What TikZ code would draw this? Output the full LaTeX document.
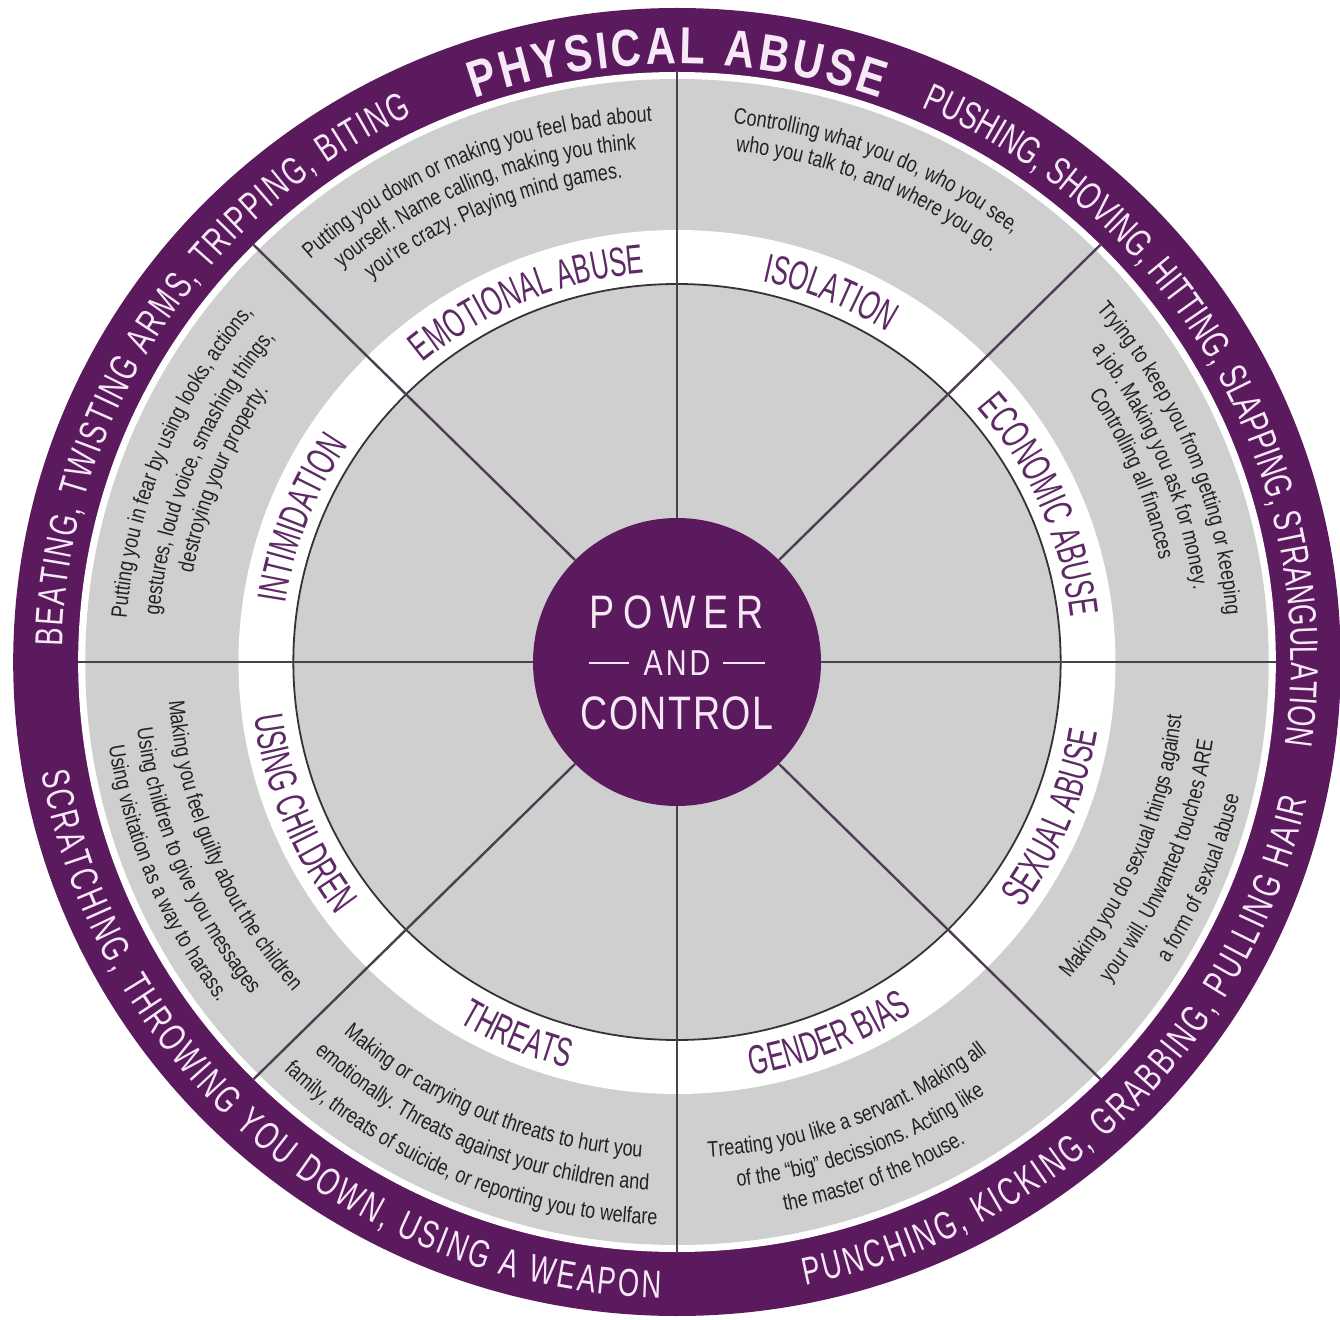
\documentclass[tikz,border=0pt]{standalone}
\usepackage{fontspec}
\setmainfont{Liberation Sans}
\newfontfamily\descfont[FakeStretch=0.8]{Liberation Sans}
\newfontfamily\labfont[FakeStretch=0.62]{Liberation Sans}
\newfontfamily\ringfont[FakeStretch=0.7]{Liberation Sans}
\newfontfamily\headfont[FakeStretch=0.8]{Liberation Sans}
\newfontfamily\hubfont[FakeStretch=0.8]{Liberation Sans}
\usetikzlibrary{decorations.text}

\definecolor{wheelpurple}{HTML}{5B1A5E}
\definecolor{wheelgray}{HTML}{CFCFCF}
\definecolor{labelpurple}{HTML}{5E2A66}
\definecolor{desctext}{HTML}{222222}
\definecolor{ringtext}{HTML}{F6E8F6}
\definecolor{spokecol}{HTML}{4E3E52}
\definecolor{rimline}{HTML}{333333}

\newcommand\descstyle{\descfont\fontsize{22.5}{26}\selectfont\color{desctext}}
\newcommand\labstyle{\labfont\fontsize{41}{44}\selectfont\color{labelpurple}}
\newcommand\ringstyle{\ringfont\fontsize{39}{42}\selectfont\color{ringtext}}
\newcommand\headstyle{\headfont\bfseries\fontsize{52}{56}\selectfont\color{ringtext}}

% text set along an arc about the wheel centre:
% format, radius, start angle, end angle, alignment, text
\newcommand\arcline[6]{%
  \path[decorate,decoration={text along path,text align={#5},text={|#1|#6}}]
    (#3:#2) arc[start angle=#3,end angle=#4,radius=#2];}

% upper half: letters upright away from the centre (clockwise)
\newcommand\topdesc[3]{%
  \pgfmathsetmacro\dlFrom{#1+70}\pgfmathsetmacro\dlTo{#1-70}%
  \arcline{\descstyle}{#2}{\dlFrom}{\dlTo}{center}{#3}}
% lower half: letters upright towards the centre (counter-clockwise)
\newcommand\botdesc[3]{%
  \pgfmathsetmacro\dlFrom{#1-70}\pgfmathsetmacro\dlTo{#1+70}%
  \arcline{\descstyle}{#2}{\dlFrom}{\dlTo}{center}{#3}}
\newcommand\toplabel[2]{%
  \pgfmathsetmacro\dlFrom{#1+60}\pgfmathsetmacro\dlTo{#1-60}%
  \arcline{\labstyle}{390}{\dlFrom}{\dlTo}{center}{#2}}
\newcommand\botlabel[2]{%
  \pgfmathsetmacro\dlFrom{#1-60}\pgfmathsetmacro\dlTo{#1+60}%
  \arcline{\labstyle}{420}{\dlFrom}{\dlTo}{center}{#2}}

\tikzset{
  hub/.style={circle,fill=wheelpurple,minimum size=288pt,inner sep=0pt},
  hubtext/.style={text=ringtext,inner sep=0pt},
  spoke/.style={draw=spokecol,line width=2.4pt},
}

\begin{document}
\begin{tikzpicture}[x=1.015pt,y=1pt]
\useasboundingbox (-667,-658) rectangle (653.2,662);
\fill[white] (-667,-658) rectangle (653.2,662);

% rings of the wheel
\fill[wheelpurple] (0,0) circle[radius=654];
\fill[white] (0,0) circle[radius=590];
\fill[wheelgray] (0,0) circle[radius=583];
\fill[white] (0,0) circle[radius=432];
\filldraw[fill=wheelgray,draw=rimline,line width=1.8pt] (0,0) circle[radius=378];

% hub
\node[hub] (hub) at (0,0) {};

% spokes
\foreach \a in {0,45,...,315}{
  \coordinate (rim\a) at (\a:590);
  \draw[spoke] (hub.\a) -- (rim\a);
}

% hub text
\node[hubtext,font={\hubfont\fontsize{47}{50}\selectfont}] (power) at (0,50)
  {P\kern8pt O\kern8pt W\kern8pt E\kern8pt R};
\node[hubtext,font={\hubfont\fontsize{36}{40}\selectfont}] (and) at (0,-1)
  {\rule[11pt]{40pt}{2.6pt}\hspace{15pt}A\kern3pt N\kern3pt D\hspace{13pt}\rule[11pt]{42pt}{2.6pt}};
\node[hubtext,font={\hubfont\fontsize{47}{50}\selectfont}] (control) at (0,-51)
  {C\kern1.5pt O\kern1.5pt N\kern1.5pt T\kern1.5pt R\kern1.5pt O\kern1.5pt L};

% outer band
\arcline{\headstyle}{598}{109.5}{70.5}{fit to path}{PHYSICAL ABUSE}
\arcline{\ringstyle}{605}{66.5}{-7.5}{fit to path}{PUSHING, SHOVING, HITTING, SLAPPING, STRANGULATION}
\arcline{\ringstyle}{606}{178.5}{115.5}{fit to path}{BEATING, TWISTING ARMS, TRIPPING, BITING}
\arcline{\ringstyle}{636}{190}{268.5}{fit to path}{SCRATCHING, THROWING YOU DOWN, USING A WEAPON}
\arcline{\ringstyle}{636}{281.5}{347.5}{fit to path}{PUNCHING, KICKING, GRABBING, PULLING HAIR}

% labels in the white ring
\toplabel{112.5}{EMOTIONAL ABUSE}
\toplabel{67.5}{ISOLATION}
\toplabel{23.5}{ECONOMIC ABUSE}
\toplabel{159}{INTIMIDATION}
\botlabel{-22.5}{SEXUAL ABUSE}
\botlabel{-68}{GENDER BIAS}
\botlabel{-113}{THREATS}
\botlabel{-158}{USING CHILDREN}

% descriptions
\topdesc{112.5}{541}{Putting you down or making you feel bad about}
\topdesc{112.5}{514}{yourself. Name calling, making you think}
\topdesc{112.5}{487}{you’re crazy. Playing mind games.}

\topdesc{68}{541}{Controlling what you do, who you see,}
\topdesc{68}{514}{who you talk to, and where you go.}

\topdesc{22.5}{543}{Trying to keep you from getting or keeping}
\topdesc{22.5}{514}{a job. Making you ask for money.}
\topdesc{22.5}{486}{Controlling all finances}

\topdesc{158}{544}{Putting you in fear by using looks, actions,}
\topdesc{158}{512}{gestures, loud voice, smashing things,}
\topdesc{158}{485}{destroying your property.}

\botdesc{-22.5}{500}{Making you do sexual things against}
\botdesc{-22.5}{534}{your will. Unwanted touches ARE}
\botdesc{-22.5}{570}{a form of sexual abuse}

\botdesc{-69}{496}{Treating you like a servant. Making all}
\botdesc{-69}{528}{of the “big” decissions. Acting like}
\botdesc{-69}{559}{the master of the house.}

\botdesc{-113}{496}{Making or carrying out threats to hurt you}
\botdesc{-113}{529}{emotionally. Threats against your children and}
\botdesc{-113}{563}{family, threats of suicide, or reporting you to welfare}

\botdesc{-157.5}{502}{Making you feel guilty about the children}
\botdesc{-157.5}{536}{Using children to give you messages}
\botdesc{-157.5}{566}{Using visitation as a way to harass.}
\end{tikzpicture}
\end{document}
